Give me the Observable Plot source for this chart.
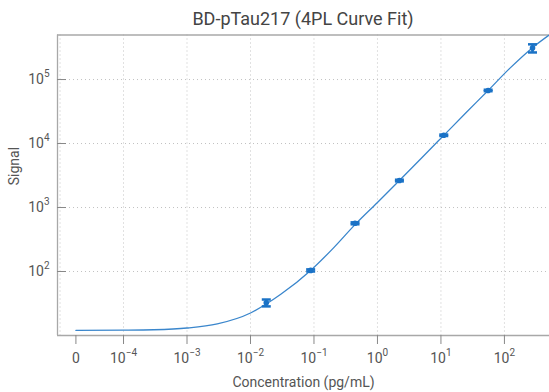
<!DOCTYPE html>
<html><head><meta charset="utf-8">
<script src="https://cdn.jsdelivr.net/npm/d3@7"></script>
<script src="https://cdn.jsdelivr.net/npm/@observablehq/plot@0.6"></script>
<style>
html,body{margin:0;padding:0;background:#fff;}
#chart{width:549px;height:392px;font-family:Roboto,sans-serif;}
#title{box-sizing:border-box;height:34px;padding:8px 0 0 57px;text-align:center;font-size:18px;color:#444;white-space:nowrap;}
</style></head><body>
<div id="chart"><div id="title"></div></div>
<script>
const title = "BD-pTau217 (4PL Curve Fit)";
const xLabel = "Concentration (pg/mL)";
const yLabel = "Signal";

// standards (5-fold dilution series), mean signal and error
const stdConc = [0.01773, 0.08864, 0.4432, 2.216, 11.08, 55.4, 277];
const stdSignal = [32.5, 104, 567, 2640, 13460, 67500, 310000];
const stdErr = [4, 4, 20, 80, 350, 1800, 45000];

const curveConc = [0, 1e-4, 3e-4, 1e-3, 3e-3, 0.01, 0.0177, 0.03, 0.0886, 0.2, 0.443, 1, 2.216, 5, 11.08, 25, 55.4, 120, 277, 513];
const curveSignal = [12.0, 12.1, 12.3, 13.1, 15.2, 22.5, 31, 44, 104, 230, 540, 1200, 2650, 6000, 13400, 30500, 67500, 148000, 315000, 500000];

const xTicks = [0, 1e-4, 1e-3, 1e-2, 1e-1, 1, 10, 100];
const xTickLabels = ["0", "10^\u22124", "10^\u22123", "10^\u22122", "10^\u22121", "10^0", "10^1", "10^2"];
const xGrid = [1e-5, 1e-4, 1e-3, 1e-2, 1e-1, 1, 10, 100];
const yTicks = [1e2, 1e3, 1e4, 1e5];
const yTickLabels = ["10^2", "10^3", "10^4", "10^5"];

const zeroAt = 10 ** -4.75; // where the log axis places "0"
const xDomain = [10 ** -5.04, 10 ** 2.71];
const yDomain = [10, 10 ** 5.696];

document.getElementById("title").textContent = title;
const pos = c => (c === 0 ? zeroAt : c);
const yLab = new Map(yTicks.map((t, i) => [t, yTickLabels[i]]));
const xTickRows = xTicks.map((t, i) => ({x: pos(t), label: xTickLabels[i]}));
const std = stdConc.map((c, i) => ({c, s: stdSignal[i], lo: stdSignal[i] - stdErr[i], hi: stdSignal[i] + stdErr[i]}));
const curve = curveConc.map((c, i) => ({c: pos(c), s: curveSignal[i]}));

const capSym = {draw(ctx, size) { const w = Math.sqrt(size / Math.PI); ctx.moveTo(-w, 0); ctx.lineTo(w, 0); }};
const blue = "#1a72c6";

const plot = Plot.plot({
  width: 549, height: 358,
  marginTop: 0.5, marginLeft: 57, marginRight: 0, marginBottom: 57,
  style: {fontFamily: "Roboto, sans-serif", fontSize: "14px", color: "#555", background: "white", overflow: "visible"},
  x: {type: "log", domain: xDomain},
  y: {type: "log", domain: yDomain},
  marks: [
    Plot.gridX(xGrid, {stroke: "#c2c2c2", strokeOpacity: 1, strokeDasharray: "1,3"}),
    Plot.gridY(yTicks, {stroke: "#c2c2c2", strokeOpacity: 1, strokeDasharray: "1,3"}),
    Plot.ruleX([xDomain[0]], {stroke: "#a8a8a8", strokeWidth: 1.3}),
    Plot.ruleY([yDomain[0], yDomain[1]], {stroke: "#a8a8a8", strokeWidth: 1.3}),
    Plot.axisX(xTicks.map(pos), {tickSize: 9, tickFormat: () => "", label: null, stroke: "#888"}),
    Plot.text(xTickRows, {x: "x", text: "label", frameAnchor: "bottom", dy: 27, fill: "#555", fontSize: 14}),
    Plot.axisY(yTicks, {tickSize: 9, dx: 9, tickFormat: () => "", label: null, stroke: "#888"}),
    Plot.axisY(yTicks, {tickSize: 0, tickPadding: 8, tickFormat: d => yLab.get(d), label: null, fill: "#555"}),
    Plot.text([xLabel], {text: d => d, frameAnchor: "bottom", dy: 51, fill: "#555", fontSize: 14}),
    Plot.text([yLabel], {text: d => d, frameAnchor: "left", dx: -43, rotate: -90, fill: "#555", fontSize: 14}),
    Plot.line(curve, {x: "c", y: "s", stroke: "#3a86cc", strokeWidth: 1.3, curve: "monotone-x", clip: true}),
    Plot.ruleX(std, {x: "c", y1: "lo", y2: "hi", stroke: blue, strokeWidth: 2.5}),
    Plot.dot(std, {x: "c", y: "lo", symbol: capSym, r: 4.5, stroke: blue, strokeWidth: 2.5, fill: "none"}),
    Plot.dot(std, {x: "c", y: "hi", symbol: capSym, r: 4.5, stroke: blue, strokeWidth: 2.5, fill: "none"}),
    Plot.dot(std, {x: "c", y: "s", r: 2.8, fill: blue, stroke: "none"})
  ]
});

plot.querySelectorAll("text").forEach(t => {
  const s = t.textContent; const k = s.indexOf("^");
  if (k < 0) return;
  t.textContent = s.slice(0, k);
  const sup = document.createElementNS("http://www.w3.org/2000/svg", "tspan");
  sup.setAttribute("dy", "-7");
  sup.setAttribute("font-size", "10");
  sup.textContent = s.slice(k + 1);
  t.appendChild(sup);
});
document.getElementById("chart").appendChild(plot);
</script>
</body></html>
